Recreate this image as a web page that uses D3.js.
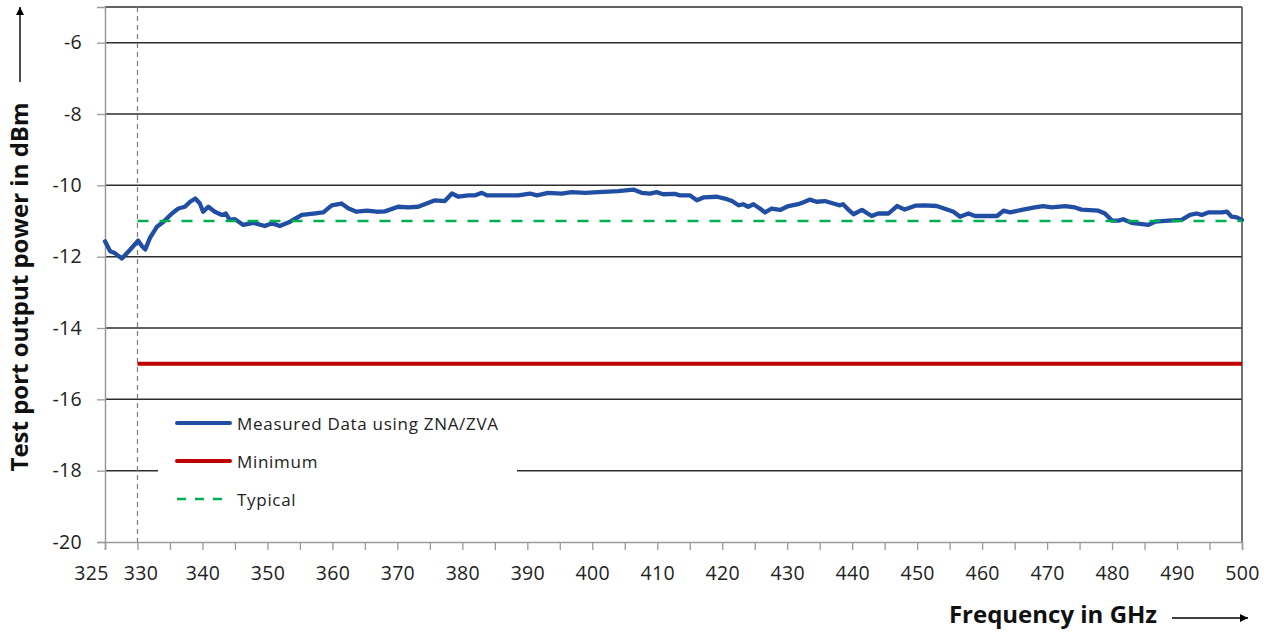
<!DOCTYPE html>
<html>
<head>
<meta charset="utf-8">
<script src="https://cdn.jsdelivr.net/npm/d3@7"></script>
<style>
  html, body { margin: 0; padding: 0; background: #fff; }
  svg { display: block; }
  text { font-family: "Open Sans", "Liberation Sans", sans-serif; }
</style>
</head>
<body>
<svg id="chart" width="1267" height="637"></svg>
<script>
// ---- data ----
const freqGHz = [325.0,325.8,326.5,327.6,328.9,330.1,330.7,331.2,331.9,333.0,334.0,335.3,336.3,337.3,338.1,338.9,339.6,340.1,340.9,341.9,343.0,343.6,344.2,345.0,346.3,347.8,349.6,350.7,351.9,353.5,355.3,357.1,358.6,359.9,361.4,362.5,363.7,365.3,366.8,368.1,370.1,371.7,373.2,374.5,375.8,377.3,378.4,379.4,380.9,382.0,383.0,383.8,386.1,388.6,390.4,391.5,393.2,395.3,396.8,398.9,400.9,404.0,406.3,407.6,408.9,409.9,410.9,412.7,413.5,415.0,416.1,417.1,419.2,420.4,421.5,422.5,423.2,424.0,424.8,425.8,426.6,427.6,428.9,430.2,431.7,432.7,433.5,434.5,435.8,437.1,438.1,438.6,439.4,440.2,441.5,443.0,444.0,445.6,446.9,448.1,449.7,451.2,453.0,454.6,455.6,456.6,457.9,458.9,460.5,462.3,463.3,464.3,466.1,468.1,469.4,470.7,472.8,474.3,475.3,477.9,478.9,480.0,481.0,481.7,483.0,484.3,485.6,486.6,488.7,490.7,492.0,493.0,493.8,494.8,496.9,497.7,498.4,499.2,500.0];
const measuredDBm = [-11.57,-11.85,-11.90,-12.05,-11.80,-11.55,-11.71,-11.80,-11.48,-11.16,-11.02,-10.79,-10.65,-10.60,-10.46,-10.37,-10.51,-10.74,-10.60,-10.74,-10.83,-10.79,-10.97,-10.95,-11.11,-11.05,-11.14,-11.06,-11.14,-11.02,-10.83,-10.79,-10.76,-10.56,-10.51,-10.65,-10.74,-10.71,-10.74,-10.73,-10.60,-10.62,-10.60,-10.51,-10.42,-10.44,-10.23,-10.32,-10.28,-10.28,-10.21,-10.28,-10.28,-10.28,-10.23,-10.28,-10.21,-10.23,-10.19,-10.21,-10.19,-10.16,-10.12,-10.21,-10.23,-10.19,-10.25,-10.24,-10.28,-10.28,-10.42,-10.34,-10.32,-10.37,-10.44,-10.56,-10.53,-10.60,-10.53,-10.65,-10.76,-10.65,-10.69,-10.58,-10.53,-10.46,-10.40,-10.46,-10.44,-10.51,-10.56,-10.53,-10.68,-10.81,-10.69,-10.86,-10.79,-10.79,-10.58,-10.68,-10.57,-10.56,-10.58,-10.68,-10.74,-10.88,-10.79,-10.86,-10.86,-10.86,-10.71,-10.76,-10.69,-10.62,-10.58,-10.62,-10.58,-10.62,-10.68,-10.71,-10.79,-10.99,-10.99,-10.95,-11.05,-11.08,-11.11,-11.02,-10.99,-10.97,-10.83,-10.79,-10.83,-10.76,-10.76,-10.74,-10.88,-10.90,-10.97];
const minimumFreq = [330, 500];
const minimumDBm = [-15, -15];
const typicalFreq = [330, 500];
const typicalDBm = [-11, -11];
const markerFreq = 330;
const xTicks = d3.range(325, 501, 5);
const xLabels = [325, 330, 340, 350, 360, 370, 380, 390, 400, 410, 420, 430, 440, 450, 460, 470, 480, 490, 500];
const yTicks = [-20, -18, -16, -14, -12, -10, -8, -6];
const yGrid = [-18, -16, -14, -12, -10, -8, -6, -5];
const legendNames = ["Measured Data using ZNA/ZVA", "Minimum", "Typical"];
const xTitle = "Frequency in GHz";
const yTitle = "Test port output power in dBm";

// ---- layout ----
const svg = d3.select("#chart");
const L = 105, R = 1242, T = 7, B = 542;
const x = d3.scaleLinear().domain([325, 500]).range([L, R]);
const y = d3.scaleLinear().domain([-20, -5]).range([B, T]);

const cBlue = "#1f4ea3", cRed = "#c00000", cGreen = "#00b050";

// gridlines
svg.append("g").selectAll("line").data(yGrid).join("line")
  .attr("x1", L).attr("x2", R)
  .attr("y1", d => y(d)).attr("y2", d => y(d))
  .attr("stroke", "#2e2e2e").attr("stroke-width", 1.5);

// right border
svg.append("line").attr("x1", R).attr("x2", R).attr("y1", T).attr("y2", B)
  .attr("stroke", "#444").attr("stroke-width", 1.5);

// vertical dashed marker
svg.append("line").attr("x1", x(markerFreq)).attr("x2", x(markerFreq))
  .attr("y1", T).attr("y2", B)
  .attr("stroke", "#7a7a7a").attr("stroke-width", 1.2).attr("stroke-dasharray", "5,4");

// axes
const xAxis = d3.axisBottom(x).tickValues(xTicks)
  .tickFormat(d => xLabels.includes(d) ? d : "")
  .tickSize(8).tickPadding(16);
const gx = svg.append("g").attr("transform", `translate(0,${B})`).call(xAxis);
const yAxis = d3.axisLeft(y).tickValues(yTicks).tickFormat(d3.format("d"))
  .tickSize(8).tickPadding(15);
const gy = svg.append("g").attr("transform", `translate(${L},0)`).call(yAxis);
[gx, gy].forEach(g => {
  g.select(".domain").attr("stroke", "#9a9a9a").attr("stroke-width", 1.5);
  g.selectAll(".tick line").attr("stroke", "#9a9a9a").attr("stroke-width", 1.3);
  g.selectAll(".tick text").attr("fill", "#222").style("font-size", "19.5px")
    .style("font-family", '"Open Sans", sans-serif').style("letter-spacing", "0.3px");
});
gy.selectAll(".tick text").text(d => d3.format("d")(d).replace("−", "-"));
// Excel-like nudging of the first two crowded labels
gx.selectAll(".tick text").attr("dx", d => d === 325 ? -14 : (d === 330 ? 3 : 0));

// minimum line
const line = d3.line().x(d => x(d[0])).y(d => y(d[1]));
svg.append("path").datum(d3.zip(minimumFreq, minimumDBm)).attr("d", line)
  .attr("fill", "none").attr("stroke", cRed).attr("stroke-width", 4);

// measured line
svg.append("path").datum(d3.zip(freqGHz, measuredDBm)).attr("d", line)
  .attr("fill", "none").attr("stroke", cBlue).attr("stroke-width", 4.3)
  .attr("stroke-linejoin", "round").attr("stroke-linecap", "round");

// typical line
svg.append("path").datum(d3.zip(typicalFreq, typicalDBm)).attr("d", line)
  .attr("fill", "none").attr("stroke", cGreen).attr("stroke-width", 2.6)
  .attr("stroke-dasharray", "11,11");

// legend
const lg = svg.append("g");
lg.append("rect").attr("x", 158).attr("y", 406).attr("width", 359).attr("height", 118).attr("fill", "#fff");
const legendY = [423, 461, 499];
const legendStyles = [
  {c: cBlue, w: 4, dash: null},
  {c: cRed, w: 4, dash: null},
  {c: cGreen, w: 2.6, dash: "9,9"}
];
legendNames.forEach((name, i) => {
  lg.append("line").attr("x1", 177).attr("x2", 230).attr("y1", legendY[i]).attr("y2", legendY[i])
    .attr("stroke", legendStyles[i].c).attr("stroke-width", legendStyles[i].w)
    .attr("stroke-dasharray", legendStyles[i].dash)
    .attr("stroke-linecap", legendStyles[i].dash ? "butt" : "round");
  lg.append("text").attr("x", 237).attr("y", legendY[i] + 6.5).text(name)
    .attr("fill", "#222").style("font-size", "17px").style("letter-spacing", "0.7px");
});

// axis titles
svg.append("text").attr("x", 1053).attr("y", 623).attr("text-anchor", "middle")
  .style("font-size", "24px").style("font-weight", "bold").attr("fill", "#111").text(xTitle);
svg.append("text").attr("transform", "translate(28,287) rotate(-90)").attr("text-anchor", "middle")
  .style("font-size", "24px").style("font-weight", "bold").attr("fill", "#111").text(yTitle);

// arrows
const defs = svg.append("defs");
defs.append("marker").attr("id", "arr").attr("viewBox", "0 0 10 10").attr("refX", 10).attr("refY", 5)
  .attr("markerWidth", 10).attr("markerHeight", 8).attr("markerUnits", "userSpaceOnUse").attr("orient", "auto")
  .append("path").attr("d", "M0,0 L10,5 L0,10 Z").attr("fill", "#000");
svg.append("line").attr("x1", 1172).attr("x2", 1248).attr("y1", 618).attr("y2", 618)
  .attr("stroke", "#000").attr("stroke-width", 1.4).attr("marker-end", "url(#arr)");
svg.append("line").attr("x1", 20).attr("x2", 20).attr("y1", 82).attr("y2", 7)
  .attr("stroke", "#000").attr("stroke-width", 1.4).attr("marker-end", "url(#arr)");
</script>
</body>
</html>
